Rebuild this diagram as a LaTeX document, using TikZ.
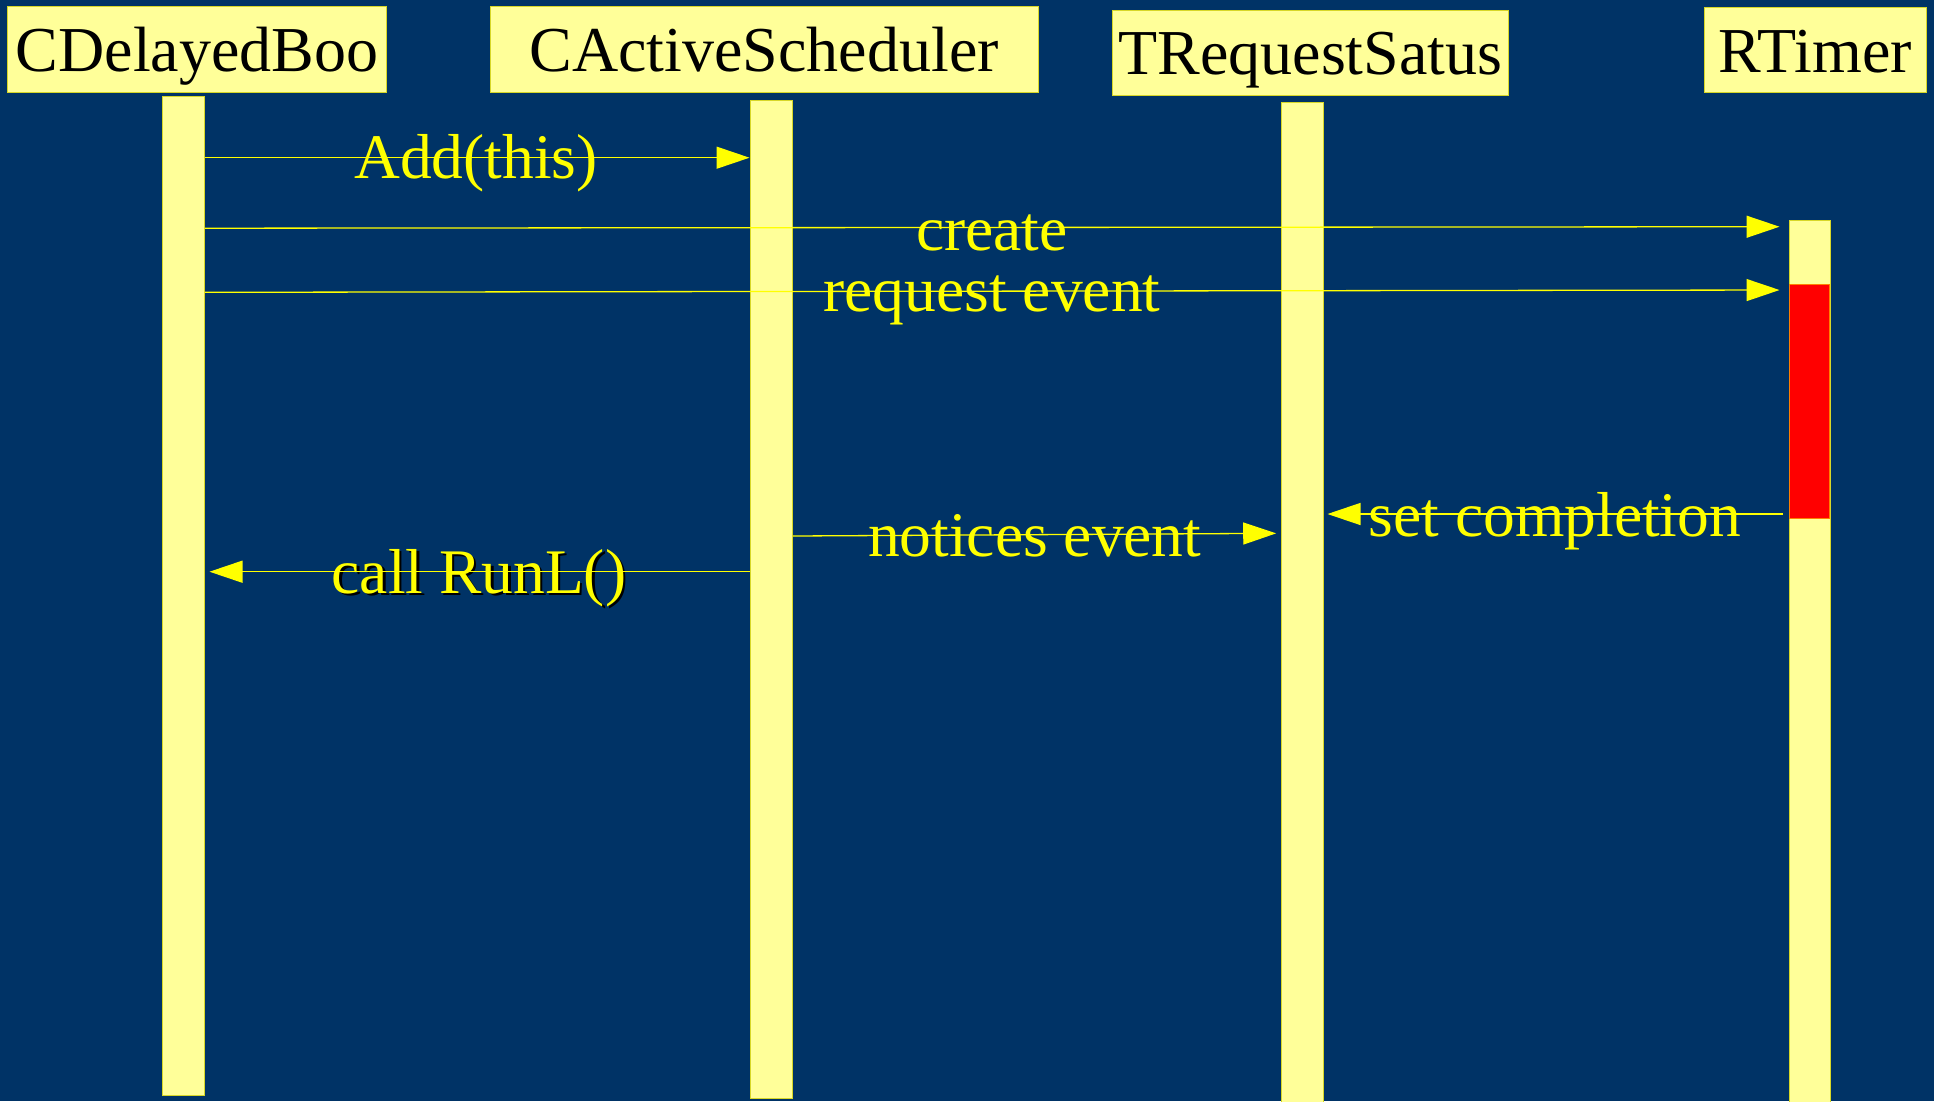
\documentclass[tikz,border=0pt]{standalone}
\usepackage{fontspec}
\setmainfont{Liberation Serif}
\usetikzlibrary{arrows.meta,calc}
\definecolor{bg}{RGB}{0,51,102}
\definecolor{paleyel}{RGB}{255,255,153}
\definecolor{edgeyel}{RGB}{215,215,40}
\definecolor{msgyel}{RGB}{255,255,0}
\definecolor{redbox}{RGB}{255,0,0}
\begin{document}
\begin{tikzpicture}[x=1pt,y=-1pt,
  hdr/.style={draw=edgeyel, line width=1pt, fill=paleyel, inner sep=0pt,
    text height=46pt, text depth=2pt, font=\fontsize{64}{70}\selectfont, text=black},
  lifebar/.style={draw=edgeyel, line width=1pt, fill=paleyel, inner sep=0pt},
  activebox/.style={draw=orange, line width=0.8pt, fill=redbox, inner sep=0pt},
  msg/.style={draw=msgyel, line width=1.3pt, -{Triangle[length=33pt,width=22pt]}},
  lbl/.style={text=msgyel, font=\fontsize{63.5}{61}\selectfont, anchor=base, inner sep=0pt}]
\useasboundingbox (0,0) rectangle (1934,1101);
\fill[bg] (0,0) rectangle (1934,1101);

% lifelines
\node[lifebar, minimum width=42pt, minimum height=998.3pt] (b1) at (183.3,595.85) {};
\node[lifebar, minimum width=42.3pt, minimum height=998pt] (b2) at (771.15,599) {};
\node[lifebar, minimum width=41.6pt, minimum height=1007.3pt] (b3) at (1302.5,606.35) {};
\node[lifebar, minimum width=41pt, minimum height=889.5pt] (b4) at (1809.5,665.25) {};
\node[activebox, minimum width=40pt, minimum height=234.4pt] (act) at (1809.7,401.5) {};

% headers
\node[hdr, minimum width=379.4pt, minimum height=86pt] (h1) at (197,49.7) {CDelayedBoo};
\node[hdr, minimum width=548.5pt, minimum height=86pt] (h2) at (764.25,49.7) {CActiveScheduler};
\node[hdr, minimum width=395.3pt, minimum height=85pt] (h3) at (1310.35,52.5) {TRequestSatus};
\node[hdr, minimum width=221.4pt, minimum height=85.4pt] (h4) at (1815.3,50) {RTimer};

% labels
\node[lbl] (ladd) at (476,178) {Add(this)};
\node[lbl] (lcreate) at (992,250.7) {create};
\node[lbl] (lreq) at (992,311.7) {request event};
\node[lbl] (lnotice) at (1034.7,556.7) {notices event};
\node[lbl, text=black] (lrunshadow) at (481.5,595.8) {call RunL()};
\node[lbl] (lrun) at (479,593.3) {call RunL()};
\node[lbl] (lset) at (1555,536) {set completion};

% messages
\draw[msg] (b1.east |- 0,157.7) -- (b2.west |- 0,157.7);
\draw[msg, shorten >=9pt] (b1.east |- 0,228.2) -- (b4.west |- 0,226.7);
\draw[msg, shorten >=9pt] (b1.east |- 0,292.3) -- (b4.west |- 0,290);
\draw[msg, shorten >=5pt] (b2.east |- 0,536) -- (b3.west |- 0,533.3);
\draw[msg, shorten <=5.4pt, shorten >=3.7pt] (b4.west |- 0,514) -- (b3.east |- 0,514);
\draw[msg, shorten >=4.7pt] (b2.west |- 0,571.7) -- (b1.east |- 0,571.7);
\end{tikzpicture}
\end{document}
